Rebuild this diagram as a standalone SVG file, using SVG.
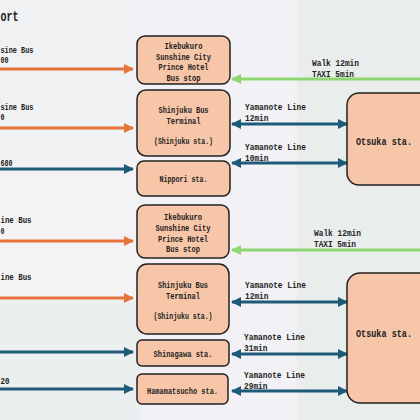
<svg xmlns="http://www.w3.org/2000/svg" width="420" height="420" viewBox="0 0 420 420">
<style>
.t{font-family:"Liberation Mono","DejaVu Sans Mono",monospace;font-weight:bold;fill:#222}
.lbl{font-size:9.5px}
.nt{font-size:8.5px;text-anchor:middle}
.big{font-size:11px;text-anchor:middle}
.node{fill:#f7c6a8;stroke:#222;stroke-width:1.5}
.or{stroke:#e8743b;stroke-width:3;fill:none}
.bl{stroke:#1d5b79;stroke-width:3;fill:none}
.gr{stroke:#8fd672;stroke-width:3;fill:none}
</style>
<defs>
<marker id="mo" markerUnits="userSpaceOnUse" markerWidth="10" markerHeight="10" refX="9" refY="5" orient="auto-start-reverse"><path d="M0,0 L10,5 L0,10 z" fill="#e8743b"/></marker>
<marker id="mb" markerUnits="userSpaceOnUse" markerWidth="10" markerHeight="10" refX="9" refY="5" orient="auto-start-reverse"><path d="M0,0 L10,5 L0,10 z" fill="#1d5b79"/></marker>
<marker id="mg" markerUnits="userSpaceOnUse" markerWidth="10" markerHeight="10" refX="9" refY="5" orient="auto-start-reverse"><path d="M0,0 L10,5 L0,10 z" fill="#8fd672"/></marker>
</defs>
<rect x="0" y="0" width="420" height="420" fill="#eef1f1"/>
<rect x="0" y="0" width="140" height="153" fill="#eff1f3"/>
<rect x="0" y="153" width="140" height="147" fill="#f3f3f6"/>
<rect x="0" y="300" width="140" height="120" fill="#ecefef"/>
<rect x="140" y="0" width="157" height="420" fill="#f2f2f6"/>
<rect x="297" y="0" width="123" height="420" fill="#e9eeed"/>

<text class="t" x="0.5" y="21" font-size="14" textLength="18" lengthAdjust="spacingAndGlyphs">ort</text>

<g id="connectors">
<line class="or" x1="-5" y1="69" x2="133" y2="69" marker-end="url(#mo)"/>
<line class="or" x1="-5" y1="128" x2="133" y2="128" marker-end="url(#mo)"/>
<line class="bl" x1="-5" y1="169" x2="133" y2="169" marker-end="url(#mb)"/>
<line class="or" x1="-5" y1="241" x2="133" y2="241" marker-end="url(#mo)"/>
<line class="or" x1="-5" y1="298" x2="133" y2="298" marker-end="url(#mo)"/>
<line class="bl" x1="-5" y1="352" x2="133" y2="352" marker-end="url(#mb)"/>
<line class="bl" x1="-5" y1="389" x2="133" y2="389" marker-end="url(#mb)"/>

<line class="gr" x1="425" y1="79" x2="232" y2="79" marker-end="url(#mg)"/>
<line class="bl" x1="232" y1="124" x2="347" y2="124" marker-start="url(#mb)" marker-end="url(#mb)"/>
<line class="bl" x1="232" y1="163" x2="347" y2="163" marker-start="url(#mb)" marker-end="url(#mb)"/>
<line class="gr" x1="425" y1="250" x2="232" y2="250" marker-end="url(#mg)"/>
<line class="bl" x1="232" y1="302" x2="347" y2="302" marker-start="url(#mb)" marker-end="url(#mb)"/>
<line class="bl" x1="232" y1="354" x2="347" y2="354" marker-start="url(#mb)" marker-end="url(#mb)"/>
<line class="bl" x1="232" y1="391" x2="347" y2="391" marker-start="url(#mb)" marker-end="url(#mb)"/>

<text class="t lbl" x="0.5" y="52.5" textLength="33" lengthAdjust="spacingAndGlyphs">sine Bus</text>
<text class="t lbl" x="0.5" y="63" textLength="8" lengthAdjust="spacingAndGlyphs">00</text>
<text class="t lbl" x="0.5" y="109.5" textLength="33" lengthAdjust="spacingAndGlyphs">sine Bus</text>
<text class="t lbl" x="0.5" y="120" textLength="4" lengthAdjust="spacingAndGlyphs">0</text>
<text class="t lbl" x="0.5" y="165.5" textLength="12" lengthAdjust="spacingAndGlyphs">680</text>
<text class="t lbl" x="0.5" y="223" textLength="31" lengthAdjust="spacingAndGlyphs">ine Bus</text>
<text class="t lbl" x="0.5" y="233.5" textLength="4" lengthAdjust="spacingAndGlyphs">0</text>
<text class="t lbl" x="0.5" y="279.5" textLength="31" lengthAdjust="spacingAndGlyphs">ine Bus</text>
<text class="t lbl" x="0.5" y="383.5" textLength="9" lengthAdjust="spacingAndGlyphs">20</text>

<text class="t lbl" x="312" y="65.5" textLength="47" lengthAdjust="spacingAndGlyphs">Walk 12min</text>
<text class="t lbl" x="312" y="76.5" textLength="42" lengthAdjust="spacingAndGlyphs">TAXI 5min</text>
<text class="t lbl" x="245" y="109.5" textLength="61" lengthAdjust="spacingAndGlyphs">Yamanote Line</text>
<text class="t lbl" x="245" y="120.5" textLength="23.5" lengthAdjust="spacingAndGlyphs">12min</text>
<text class="t lbl" x="245" y="149.5" textLength="61" lengthAdjust="spacingAndGlyphs">Yamanote Line</text>
<text class="t lbl" x="245" y="160.5" textLength="23.5" lengthAdjust="spacingAndGlyphs">10min</text>
<text class="t lbl" x="314" y="235.5" textLength="47" lengthAdjust="spacingAndGlyphs">Walk 12min</text>
<text class="t lbl" x="314" y="246.5" textLength="42" lengthAdjust="spacingAndGlyphs">TAXI 5min</text>
<text class="t lbl" x="245" y="287.5" textLength="61" lengthAdjust="spacingAndGlyphs">Yamanote Line</text>
<text class="t lbl" x="245" y="298.5" textLength="23.5" lengthAdjust="spacingAndGlyphs">12min</text>
<text class="t lbl" x="244" y="339.5" textLength="61" lengthAdjust="spacingAndGlyphs">Yamanote Line</text>
<text class="t lbl" x="244" y="350.5" textLength="23.5" lengthAdjust="spacingAndGlyphs">31min</text>
<text class="t lbl" x="244" y="377.5" textLength="61" lengthAdjust="spacingAndGlyphs">Yamanote Line</text>
<text class="t lbl" x="244" y="388.5" textLength="23.5" lengthAdjust="spacingAndGlyphs">29min</text>
</g>

<g id="n-ikebukuro1">
<rect class="node" x="137" y="36" width="93" height="48" rx="8"/>
<text class="t nt" x="183.5" y="49" textLength="38" lengthAdjust="spacingAndGlyphs">Ikebukuro</text>
<text class="t nt" x="183.5" y="59.5" textLength="55" lengthAdjust="spacingAndGlyphs">Sunshine City</text>
<text class="t nt" x="183.5" y="70" textLength="50" lengthAdjust="spacingAndGlyphs">Prince Hotel</text>
<text class="t nt" x="183.5" y="80.5" textLength="34" lengthAdjust="spacingAndGlyphs">Bus stop</text>
</g>
<g id="n-shinjuku1">
<rect class="node" x="137" y="90" width="93" height="66" rx="9"/>
<text class="t nt" x="183.5" y="113" textLength="50" lengthAdjust="spacingAndGlyphs">Shinjuku Bus</text>
<text class="t nt" x="183.5" y="123.5" textLength="34" lengthAdjust="spacingAndGlyphs">Terminal</text>
<text class="t nt" x="183.5" y="143.5" textLength="59" lengthAdjust="spacingAndGlyphs">(Shinjuku sta.)</text>
</g>
<g id="n-nippori">
<rect class="node" x="137" y="161" width="93" height="35" rx="7"/>
<text class="t nt" x="183.5" y="181.5" textLength="48" lengthAdjust="spacingAndGlyphs">Nippori sta.</text>
</g>
<g id="n-otsuka1">
<rect class="node" x="347" y="93" width="85" height="92" rx="12"/>
<text class="t big" x="384" y="145" textLength="56" lengthAdjust="spacingAndGlyphs">Otsuka sta.</text>
</g>

<g id="n-ikebukuro2">
<rect class="node" x="137" y="205" width="92" height="53" rx="8"/>
<text class="t nt" x="183" y="220" textLength="38" lengthAdjust="spacingAndGlyphs">Ikebukuro</text>
<text class="t nt" x="183" y="231" textLength="55" lengthAdjust="spacingAndGlyphs">Sunshine City</text>
<text class="t nt" x="183" y="241.5" textLength="50" lengthAdjust="spacingAndGlyphs">Prince Hotel</text>
<text class="t nt" x="183" y="252" textLength="34" lengthAdjust="spacingAndGlyphs">Bus stop</text>
</g>
<g id="n-shinjuku2">
<rect class="node" x="137" y="264" width="92" height="70" rx="10"/>
<text class="t nt" x="183" y="288" textLength="50" lengthAdjust="spacingAndGlyphs">Shinjuku Bus</text>
<text class="t nt" x="183" y="298.5" textLength="34" lengthAdjust="spacingAndGlyphs">Terminal</text>
<text class="t nt" x="183" y="319" textLength="59" lengthAdjust="spacingAndGlyphs">(Shinjuku sta.)</text>
</g>
<g id="n-shinagawa">
<rect class="node" x="137" y="340" width="92" height="26" rx="5"/>
<text class="t nt" x="183" y="357" textLength="59" lengthAdjust="spacingAndGlyphs">Shinagawa sta.</text>
</g>
<g id="n-hamamatsucho">
<rect class="node" x="137" y="374" width="91" height="30" rx="5"/>
<text class="t nt" x="182.5" y="394" textLength="71" lengthAdjust="spacingAndGlyphs">Hamamatsucho sta.</text>
</g>
<g id="n-otsuka2">
<rect class="node" x="347" y="273" width="85" height="130" rx="13"/>
<text class="t big" x="384" y="337" textLength="56" lengthAdjust="spacingAndGlyphs">Otsuka sta.</text>
</g>
</svg>
